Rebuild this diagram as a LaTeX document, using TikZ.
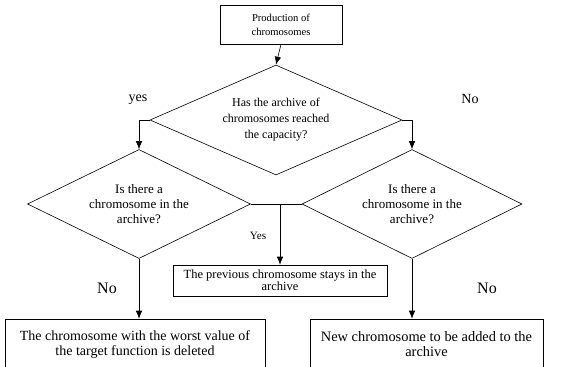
\documentclass[tikz,border=0pt]{standalone}
\usepackage{fontspec}
\setmainfont{Liberation Serif}
\usetikzlibrary{shapes.geometric,arrows.meta}

\tikzset{
  box/.style={draw,rectangle,inner sep=0pt,align=center},
  test/.style={draw,diamond,shape aspect=2.2,inner sep=0pt,align=center},
  flow/.style={-{Latex[length=8pt,width=6.5pt]}},
  answer/.style={inner sep=0pt}
}

\begin{document}
\begin{tikzpicture}[x=1pt,y=-1pt,line width=0.6pt]
  \useasboundingbox (0,0) rectangle (584,367);

    % start and first test
    \node[box,minimum width=122pt,minimum height=39pt,font=\fontsize{10.6}{14}\selectfont] (prod) at (281,24.5) {Production of\\chromosomes};
    \node[test,minimum width=252pt,minimum height=110pt,font=\fontsize{12}{16}\selectfont] (full) at (276,120) {Has the archive of\\chromosomes reached\\the capacity?};
    \draw[flow] (prod.south) -- (full.north);

    % second row of tests
    \node[test,minimum width=223pt,minimum height=109pt,font=\fontsize{13}{15}\selectfont] (inl) at (139,204) {Is there a\\chromosome in the\\archive?};
    \node[test,minimum width=220pt,minimum height=109pt,font=\fontsize{13}{15}\selectfont] (inr) at (412,204) {Is there a\\chromosome in the\\archive?};
    \draw[flow] (full.west) -| (inl.north);
    \draw[flow] (full.east) -| (inr.north);
    \node[answer,font=\fontsize{14}{14}\selectfont] (yes) at (138,100) {yes};
    \node[answer,font=\fontsize{14}{14}\selectfont] (no) at (470,99) {No};

    % results
    \node[box,minimum width=214pt,minimum height=31pt,font=\fontsize{12.5}{12}\selectfont] (stay) at (280,280.5) {The previous chromosome stays in the\\archive};
    \node[box,minimum width=260pt,minimum height=51pt,font=\fontsize{14}{15}\selectfont] (del) at (135,344.5) {The chromosome with the worst value of\\the target function is deleted};
    \node[box,minimum width=233pt,minimum height=51pt,font=\fontsize{14.4}{15}\selectfont] (add) at (426.5,344.5) {New chromosome to be added to the\\archive};

    \draw (inl.east) -- (inr.west);
    \coordinate (mid) at (stay.north |- inl.east);
    \draw[flow] (mid) -- (stay.north);
    \draw[flow] (inl.south) -- (inl.south |- del.north);
    \draw[flow] (inr.south) -- (inr.south |- add.north);
    \node[answer,font=\fontsize{11.2}{12}\selectfont] (yes2) at (258,236) {Yes};
    \node[answer,font=\fontsize{16}{16}\selectfont] (no2) at (107,288) {No};
    \node[answer,font=\fontsize{16}{16}\selectfont] (no3) at (487,288) {No};

\end{tikzpicture}
\end{document}
